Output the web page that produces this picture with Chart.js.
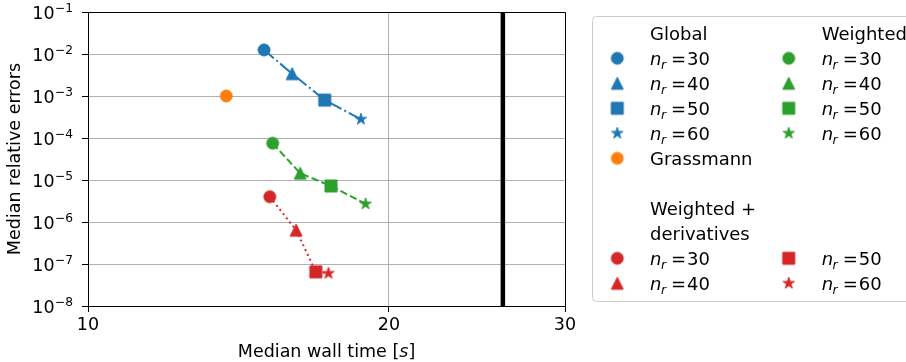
<!DOCTYPE html>
<html>
<head>
<meta charset="utf-8">
<script src="https://cdn.jsdelivr.net/npm/chart.js@4.4.1/dist/chart.umd.min.js"></script>
<style>
  html, body { margin: 0; padding: 0; background: #fff; }
</style>
</head>
<body>
<canvas id="chart" width="906" height="362"></canvas>
<script>
// values
const nrValues = [30, 40, 50, 60];
const globalTime = [15.0, 16.0, 17.25, 18.75];
const globalError = [1.25e-2, 3.4e-3, 8.0e-4, 2.8e-4];
const weightedTime = [15.3, 16.3, 17.5, 18.95];
const weightedError = [7.5e-5, 1.45e-5, 7.2e-6, 2.7e-6];
const derivTime = [15.2, 16.15, 16.9, 17.4];
const derivError = [4.0e-6, 6.4e-7, 6.5e-8, 6.0e-8];
const grassmannTime = [13.75];
const grassmannError = [1.0e-3];
const limitTime = 26;
const xTicks = [10, 20, 30];
const yTicks = [1e-8, 1e-7, 1e-6, 1e-5, 1e-4, 1e-3, 1e-2, 1e-1];

const BLUE = '#1f77b4', ORANGE = '#ff7f0e', GREEN = '#2ca02c', RED = '#d62728';
const FONT = "'DejaVu Sans', sans-serif";

function makeMarker(shape, color, size) {
    const c = document.createElement('canvas');
    const dim = size + 4;
    c.width = c.height = dim;
    const g = c.getContext('2d');
    const m = dim / 2, r = size / 2;
    g.fillStyle = color;
    g.strokeStyle = color;
    g.lineWidth = 1;
    g.beginPath();
    if (shape === 'circle') {
        g.arc(m, m, r, 0, Math.PI * 2);
    } else if (shape === 'triangle') {
        g.moveTo(m, m - r);
        g.lineTo(m + r, m + r);
        g.lineTo(m - r, m + r);
        g.closePath();
    } else if (shape === 'square') {
        g.rect(m - r, m - r, size, size);
    } else {
        for (let i = 0; i < 10; i++) {
            const a = -Math.PI / 2 + i * Math.PI / 5;
            const rr = i % 2 ? r * 0.381966 : r;
            const px = m + Math.cos(a) * rr, py = m + Math.sin(a) * rr;
            i ? g.lineTo(px, py) : g.moveTo(px, py);
        }
        g.closePath();
    }
    g.fill();
    g.stroke();
    return c;
}

const shapes = ['circle', 'triangle', 'square', 'star'];
const markers = {};
[BLUE, ORANGE, GREEN, RED].forEach(col => {
    markers[col] = shapes.map(s => makeMarker(s, col, 12));
});

function toPoints(xs, ys) {
    return xs.map((x, i) => ({ x: x, y: ys[i] }));
}

// y tick labels as 10 with a raised exponent, placed by the y scale
const yLabelPlugin = {
    id: 'yLabels',
    afterDraw(chart) {
        const { ctx } = chart;
        const s = chart.scales.y;
        const right = s.right - 6 - 9;
        ctx.save();
        ctx.fillStyle = '#000';
        ctx.textAlign = 'right';
        ctx.textBaseline = 'alphabetic';
        s.ticks.forEach(t => {
            const y = s.getPixelForValue(t.value);
            const e = Math.round(Math.log10(t.value));
            const expText = (e < 0 ? '\u2212' : '') + Math.abs(e);
            ctx.font = '12.2px ' + FONT;
            const ew = ctx.measureText(expText).width;
            ctx.fillText(expText, right, y - 0.5);
            ctx.font = '17.5px ' + FONT;
            ctx.fillText('10', right - ew - 0.5, y + 7);
        });
        ctx.restore();
    }
};

// top/right spines and x title with italic s
const framePlugin = {
    id: 'frame',
    afterDraw(chart) {
        const { ctx, chartArea: a } = chart;
        ctx.save();
        ctx.strokeStyle = '#000';
        ctx.lineWidth = 1;
        ctx.beginPath();
        ctx.moveTo(Math.round(a.left) + 0.5, Math.round(a.top) + 0.5);
        ctx.lineTo(Math.round(a.right) + 0.5, Math.round(a.top) + 0.5);
        ctx.lineTo(Math.round(a.right) + 0.5, Math.round(a.bottom) + 0.5);
        ctx.stroke();

        const parts = [['Median wall time [', 'normal'], ['s', 'italic'], [']', 'normal']];
        let total = 0;
        parts.forEach(p => { ctx.font = p[1] + ' 17.5px ' + FONT; p.push(ctx.measureText(p[0]).width); total += p[2]; });
        let x = (a.left + a.right) / 2 - total / 2;
        ctx.fillStyle = '#000';
        ctx.textBaseline = 'alphabetic';
        ctx.textAlign = 'left';
        parts.forEach(p => { ctx.font = p[1] + ' 17.5px ' + FONT; ctx.fillText(p[0], x, 357); x += p[2]; });
        ctx.restore();
    }
};

// legend laid out like the matplotlib one
const legendCols = [650, 821.7];
const markerCols = [617.3, 788.7];
function rowY(i) { return 33.3 + 25 * i; }

const legendEntries = [
    { col: 0, row: 0, title: 'Global' },
    { col: 1, row: 0, title: 'Weighted' },
    { col: 0, row: 5, title: 'Grassmann', marker: markers[ORANGE][0] },
    { col: 0, row: 7, title: 'Weighted +' },
    { col: 0, row: 8, title: 'derivatives' }
];
nrValues.forEach((n, i) => {
    legendEntries.push({ col: 0, row: 1 + i, nr: n, marker: markers[BLUE][i] });
    legendEntries.push({ col: 1, row: 1 + i, nr: n, marker: markers[GREEN][i] });
    legendEntries.push({ col: i < 2 ? 0 : 1, row: 9 + (i % 2), nr: n, marker: markers[RED][i] });
});

const legendPlugin = {
    id: 'customLegend',
    afterDraw(chart) {
        const ctx = chart.ctx;
        ctx.save();
        ctx.beginPath();
        ctx.roundRect(592.5, 16.5, 360, 285, 4);
        ctx.fillStyle = 'rgba(255,255,255,0.8)';
        ctx.fill();
        ctx.strokeStyle = '#cccccc';
        ctx.lineWidth = 1;
        ctx.stroke();

        ctx.fillStyle = '#000';
        ctx.textBaseline = 'alphabetic';
        ctx.textAlign = 'left';
        legendEntries.forEach(e => {
            const y = rowY(e.row);
            const base = y + 6.5;
            const tx = legendCols[e.col];
            if (e.marker) {
                ctx.drawImage(e.marker, markerCols[e.col] - e.marker.width / 2, y - e.marker.height / 2);
            }
            if (e.title) {
                ctx.font = '18px ' + FONT;
                ctx.fillText(e.title, tx, base);
            } else {
                ctx.font = 'italic 18px ' + FONT;
                ctx.fillText('n', tx, base);
                const w = ctx.measureText('n').width;
                ctx.font = 'italic 12.5px ' + FONT;
                ctx.fillText('r', tx + w - 0.5, base + 4);
                ctx.font = '18px ' + FONT;
                ctx.fillText('=', tx + 21, base);
                ctx.fillText(String(e.nr), tx + 37, base);
            }
        });
        ctx.restore();
    }
};

const lineCommon = { showLine: true, borderWidth: 2, borderCapStyle: 'butt', pointRadius: 6, clip: false };

new Chart(document.getElementById('chart'), {
    type: 'scatter',
    data: {
        datasets: [
            Object.assign({ data: toPoints(globalTime, globalError), borderColor: BLUE, backgroundColor: BLUE,
                borderDash: [12.8, 3.2, 2, 3.2], pointStyle: markers[BLUE] }, lineCommon),
            { data: toPoints(grassmannTime, grassmannError), borderColor: ORANGE, backgroundColor: ORANGE,
                pointRadius: 6, pointStyle: markers[ORANGE][0], showLine: false },
            Object.assign({ data: toPoints(weightedTime, weightedError), borderColor: GREEN, backgroundColor: GREEN,
                borderDash: [7.4, 3.2], pointStyle: markers[GREEN] }, lineCommon),
            Object.assign({ data: toPoints(derivTime, derivError), borderColor: RED, backgroundColor: RED,
                borderDash: [2, 3.3], pointStyle: markers[RED] }, lineCommon),
            { data: [{ x: limitTime, y: yTicks[0] }, { x: limitTime, y: yTicks[yTicks.length - 1] }],
                showLine: true, borderColor: '#000', borderWidth: 4.5, pointRadius: 0 }
        ]
    },
    options: {
        responsive: false,
        animation: false,
        events: [],
        layout: { padding: { top: 12, right: 341, left: 0, bottom: 0 } },
        plugins: { legend: { display: false }, tooltip: { enabled: false } },
        scales: {
            x: {
                type: 'logarithmic',
                min: xTicks[0],
                max: xTicks[xTicks.length - 1],
                afterBuildTicks: s => { s.ticks = xTicks.map(v => ({ value: v })); },
                afterFit: s => { s.height = 56; },
                ticks: { callback: v => String(v), color: '#000', font: { family: FONT, size: 17.5 },
                    padding: 3, maxRotation: 0, autoSkip: false },
                grid: { color: '#b0b0b0', lineWidth: 1, tickColor: '#000', tickLength: 6 },
                border: { color: '#000', width: 1 }
            },
            y: {
                type: 'logarithmic',
                min: yTicks[0],
                max: yTicks[yTicks.length - 1],
                afterBuildTicks: s => { s.ticks = yTicks.map(v => ({ value: v })); },
                afterFit: s => { s.width = 88; },
                ticks: { display: false },
                grid: { color: '#b0b0b0', lineWidth: 1, tickColor: '#000', tickLength: 6 },
                border: { color: '#000', width: 1 },
                title: { display: true, text: 'Median relative errors', color: '#000',
                    font: { family: FONT, size: 17.5 }, padding: { top: 5, bottom: 0 } }
            }
        }
    },
    plugins: [yLabelPlugin, framePlugin, legendPlugin]
});
</script>
</body>
</html>
